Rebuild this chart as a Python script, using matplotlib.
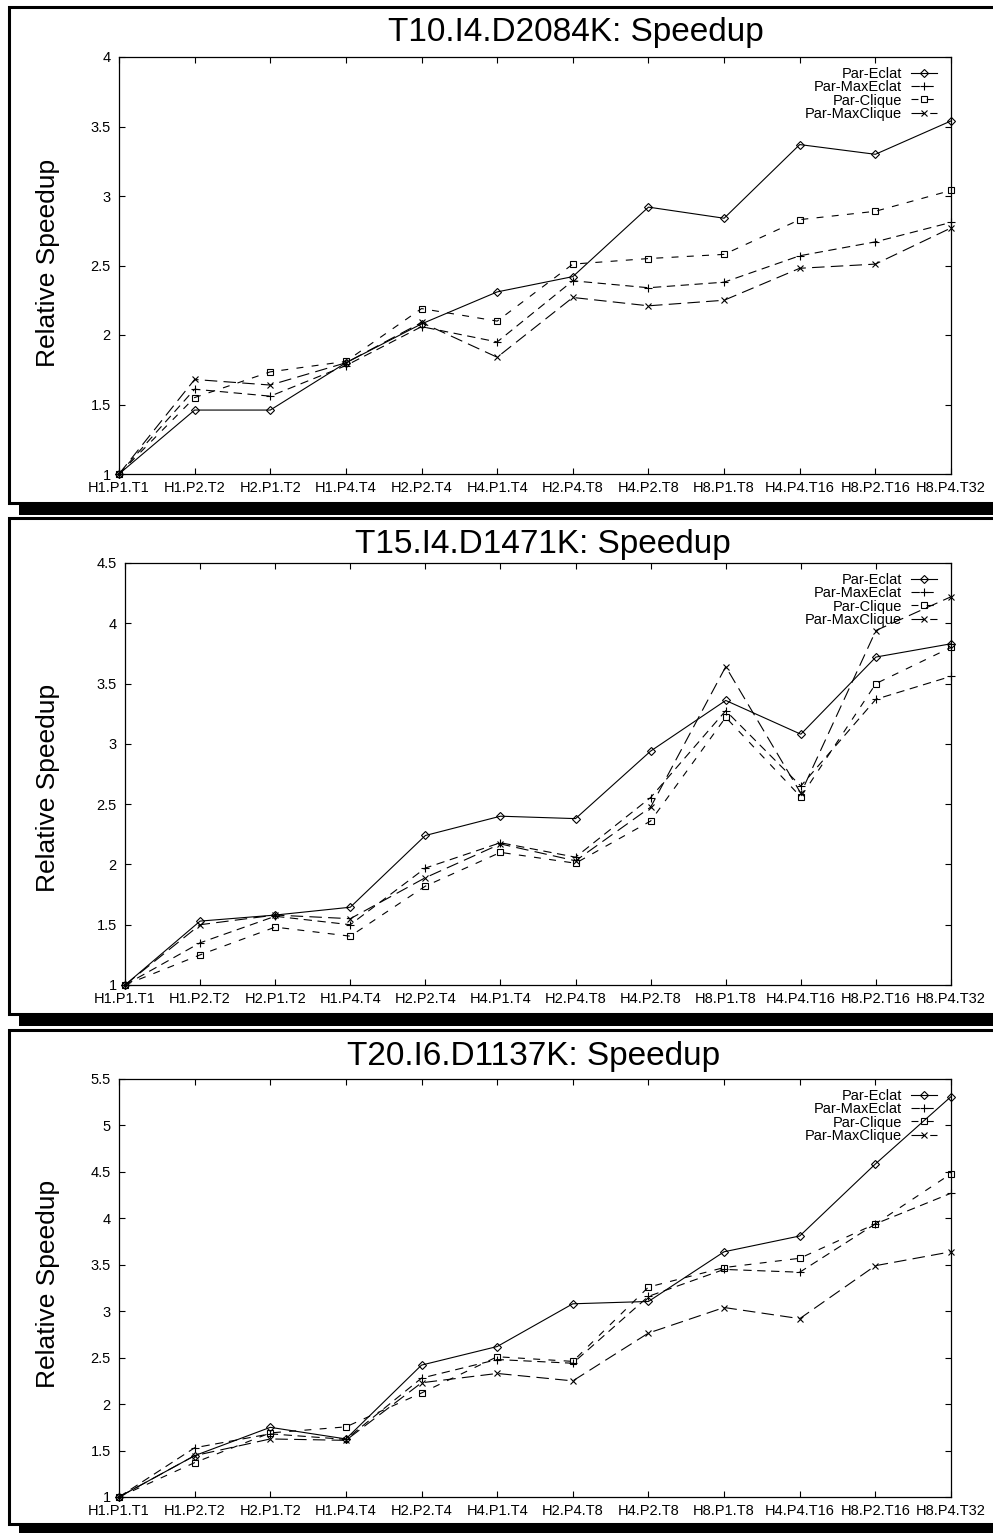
import matplotlib
matplotlib.use("Agg")
import matplotlib.pyplot as plt
import numpy as np
from matplotlib.patches import Rectangle
from matplotlib.ticker import FormatStrFormatter

W, H = 993, 1533

CONFIGS = ["H1.P1.T1", "H1.P2.T2", "H2.P1.T2", "H1.P4.T4", "H2.P2.T4",
           "H4.P1.T4", "H2.P4.T8", "H4.P2.T8", "H8.P1.T8", "H4.P4.T16",
           "H8.P2.T16", "H8.P4.T32"]
SERIES = ["Par-Eclat", "Par-MaxEclat", "Par-Clique", "Par-MaxClique"]

# T10.I4.D2084K
T10_ECLAT = [1.0, 1.46, 1.46, 1.80, 2.08, 2.31, 2.42, 2.92, 2.84, 3.37, 3.30, 3.54]
T10_MAXECLAT = [1.0, 1.61, 1.56, 1.78, 2.06, 1.95, 2.39, 2.34, 2.38, 2.57, 2.67, 2.81]
T10_CLIQUE = [1.0, 1.55, 1.735, 1.81, 2.19, 2.10, 2.51, 2.55, 2.58, 2.83, 2.89, 3.04]
T10_MAXCLIQUE = [1.0, 1.68, 1.64, 1.80, 2.09, 1.84, 2.27, 2.21, 2.25, 2.48, 2.51, 2.77]

# T15.I4.D1471K
T15_ECLAT = [1.0, 1.53, 1.58, 1.645, 2.24, 2.40, 2.38, 2.94, 3.36, 3.08, 3.72, 3.83]
T15_MAXECLAT = [1.0, 1.35, 1.57, 1.50, 1.97, 2.18, 2.06, 2.555, 3.275, 2.65, 3.37, 3.56]
T15_CLIQUE = [1.0, 1.25, 1.48, 1.405, 1.82, 2.10, 2.01, 2.36, 3.22, 2.56, 3.50, 3.80]
T15_MAXCLIQUE = [1.0, 1.50, 1.58, 1.55, 1.89, 2.17, 2.03, 2.475, 3.64, 2.59, 3.94, 4.22]

# T20.I6.D1137K
T20_ECLAT = [1.0, 1.445, 1.75, 1.625, 2.42, 2.62, 3.08, 3.105, 3.64, 3.81, 4.585, 5.31]
T20_MAXECLAT = [1.0, 1.53, 1.68, 1.62, 2.28, 2.48, 2.44, 3.16, 3.45, 3.42, 3.94, 4.27]
T20_CLIQUE = [1.0, 1.37, 1.69, 1.755, 2.12, 2.51, 2.46, 3.26, 3.47, 3.57, 3.94, 4.48]
T20_MAXCLIQUE = [1.0, 1.445, 1.625, 1.61, 2.23, 2.33, 2.25, 2.765, 3.04, 2.92, 3.49, 3.64]

PANELS = [
    {"title": "T10.I4.D2084K: Speedup", "ymax": 4.0,
     "data": [T10_ECLAT, T10_MAXECLAT, T10_CLIQUE, T10_MAXCLIQUE],
     "frame": (7, 503), "axes": (119, 57, 951, 474), "title_xy": (576, 33),
     "ylabel_y": 263},
    {"title": "T15.I4.D1471K: Speedup", "ymax": 4.5,
     "data": [T15_ECLAT, T15_MAXECLAT, T15_CLIQUE, T15_MAXCLIQUE],
     "frame": (518, 1014), "axes": (125, 563, 951, 985), "title_xy": (543, 544),
     "ylabel_y": 788},
    {"title": "T20.I6.D1137K: Speedup", "ymax": 5.5,
     "data": [T20_ECLAT, T20_MAXECLAT, T20_CLIQUE, T20_MAXCLIQUE],
     "frame": (1030, 1524), "axes": (119, 1079, 951, 1497), "title_xy": (534, 1057),
     "ylabel_y": 1284},
]

# gnuplot-like point/line types for the four series
STYLES = [
    dict(marker="D", ms=3.6, ls="-"),
    dict(marker="+", ms=6.0, dashes=(6, 4)),
    dict(marker="s", ms=5.0, dashes=(5, 6)),
    dict(marker="x", ms=5.0, dashes=(9, 4.5)),
]

plt.rcParams.update({
    "font.family": ["Liberation Sans", "DejaVu Sans"],
    "lines.scale_dashes": False,
})


def fx(x):
    return x / W


def fy(y):
    return 1 - y / H


def draw_frame(fig, top, bottom):
    # drop shadow, then the white box with a heavy border
    fig.add_artist(Rectangle((fx(19), fy(bottom + 12)), fx(1020 - 19),
                             (bottom - top) / H, transform=fig.transFigure,
                             facecolor="black", edgecolor="none", zorder=-3))
    fig.add_artist(Rectangle((fx(9), fy(bottom)), fx(1010 - 9),
                             (bottom - top) / H, transform=fig.transFigure,
                             facecolor="white", edgecolor="black", lw=2.2,
                             zorder=-2))


def draw_panel(fig, p):
    left, top, right, bottom = p["axes"]
    ax = fig.add_axes([fx(left), fy(bottom), (right - left) / W, (bottom - top) / H])
    x = np.arange(len(CONFIGS))
    for name, vals, st in zip(SERIES, p["data"], STYLES):
        st = dict(st)
        ms = st.pop("ms")
        ax.plot(x, vals, color="black", lw=0.8, mfc="none", mec="black",
                mew=0.8, markersize=ms, clip_on=False, label=name, **st)
    ax.set_xlim(0, len(CONFIGS) - 1)
    ax.set_ylim(1, p["ymax"])
    ax.set_xticks(x)
    ax.set_xticklabels(CONFIGS)
    ax.set_yticks(np.arange(1, p["ymax"] + 0.01, 0.5))
    ax.yaxis.set_major_formatter(FormatStrFormatter("%g"))
    ax.tick_params(direction="in", top=True, right=True, length=4.5,
                   width=0.8, labelsize=10.5, colors="black")
    ax.tick_params(axis="x", pad=5)
    ax.tick_params(axis="y", pad=6)
    for sp in ax.spines.values():
        sp.set_linewidth(0.9)

    ax.legend(loc="upper right", bbox_to_anchor=(fx(937), fy(top + 10)),
              bbox_transform=fig.transFigure, frameon=False, markerfirst=False,
              fontsize=10.5, handlelength=1.8, handletextpad=0.6,
              labelspacing=-0.05, borderpad=0, borderaxespad=0)

    tx, ty = p["title_xy"]
    fig.text(fx(tx), fy(ty), p["title"], ha="center", va="center", fontsize=24)
    fig.text(fx(48), fy(p["ylabel_y"]), "Relative Speedup", rotation=90,
             ha="center", va="center", fontsize=19)


def main():
    fig = plt.figure(figsize=(W / 100, H / 100), dpi=100)
    for p in PANELS:
        draw_frame(fig, *p["frame"])
        draw_panel(fig, p)
    fig.savefig("out.png", dpi=100, facecolor="white")
    plt.close(fig)


if __name__ == "__main__":
    main()
